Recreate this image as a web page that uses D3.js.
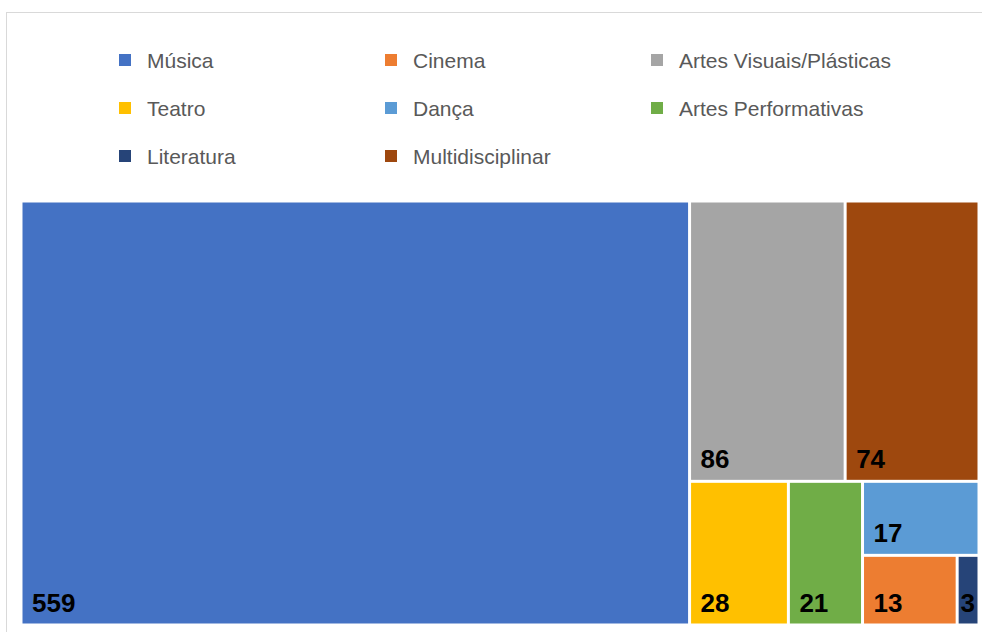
<!DOCTYPE html>
<html>
<head>
<meta charset="utf-8">
<script src="https://cdn.jsdelivr.net/npm/d3@7"></script>
<style>
  html, body { margin: 0; padding: 0; background: #fff; }
  svg { display: block; }
</style>
</head>
<body>
<svg id="chart" width="982" height="632"></svg>
<script>
// Categories in legend order, with their counts and theme colours
const categories = ["Música", "Cinema", "Artes Visuais/Plásticas", "Teatro", "Dança", "Artes Performativas", "Literatura", "Multidisciplinar"];
const values = [559, 13, 86, 28, 17, 21, 3, 74];
const colors = ["#4472C4", "#ED7D31", "#A5A5A5", "#FFC000", "#5B9BD5", "#70AD47", "#264478", "#9E480E"];

const W = 982, H = 632;
const svg = d3.select("#chart");
const FONT = "'Liberation Sans', Arial, sans-serif";

// Chart frame
svg.append("rect")
  .attr("x", 6.5).attr("y", 12.5)
  .attr("width", W + 10).attr("height", H + 10)
  .attr("fill", "#fff").attr("stroke", "#d9d9d9").attr("stroke-width", 1);

// Legend: three columns, row-major
const legendCols = [118, 384, 650];
const legendRow0 = 60, legendRowStep = 48;
const legend = svg.append("g").attr("class", "legend");
categories.forEach((c, i) => {
  const col = i % 3, row = Math.floor(i / 3);
  const g = legend.append("g")
    .attr("transform", `translate(${legendCols[col]},${legendRow0 + row * legendRowStep})`);
  g.append("rect").attr("x", 1).attr("y", -6).attr("width", 12).attr("height", 12).attr("fill", colors[i]);
  g.append("text")
    .attr("x", 29).attr("y", 7.5)
    .attr("font-family", FONT)
    .attr("font-size", 21)
    .attr("fill", "#595959")
    .text(c);
});

// Treemap: squarified layout computed in a 958x400 frame,
// then stretched onto the plot area with linear scales.
const plot = { x0: 21, y0: 201, x1: 979, y1: 625 };
const layoutW = 958, layoutH = 400;
const sx = d3.scaleLinear().domain([0, layoutW]).range([plot.x0, plot.x1]);
const sy = d3.scaleLinear().domain([0, layoutH]).range([plot.y0, plot.y1]);

const data = { children: categories.map((c, i) => ({ name: c, value: values[i], color: colors[i] })) };
const root = d3.hierarchy(data).sum(d => d.value || 0).sort((a, b) => b.value - a.value);
d3.treemap()
  .tile(d3.treemapSquarify.ratio(1))
  .size([layoutW, layoutH])(root);

const inset = 1.5;
const cells = svg.append("g").selectAll("g").data(root.leaves()).join("g");

cells.append("rect")
  .attr("x", d => sx(d.x0) + inset)
  .attr("y", d => sy(d.y0) + inset)
  .attr("width", d => Math.max(0, sx(d.x1) - sx(d.x0) - 2 * inset))
  .attr("height", d => Math.max(0, sy(d.y1) - sy(d.y0) - 2 * inset))
  .attr("fill", d => d.data.color);

cells.append("text")
  .attr("font-family", FONT)
  .attr("font-weight", "bold")
  .attr("font-size", 26)
  .attr("fill", "#000")
  .attr("y", d => sy(d.y1) - 13)
  .text(d => d.value)
  .each(function (d) {
    const tw = this.getComputedTextLength();
    const left = sx(d.x0), right = sx(d.x1);
    const x = Math.min(left + 11, right - tw - 4);
    d3.select(this).attr("x", Math.max(left + inset + 1, x));
  });
</script>
</body>
</html>
